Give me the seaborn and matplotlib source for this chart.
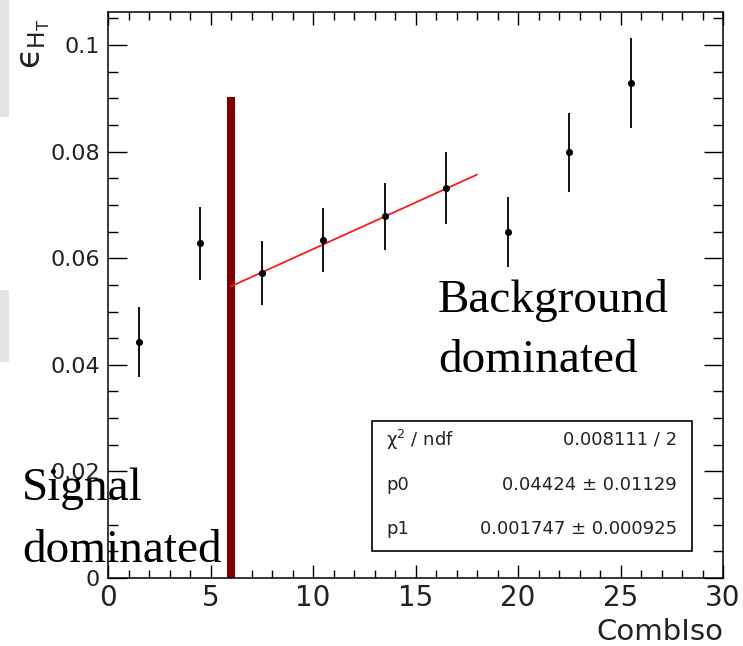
import numpy as np
import pandas as pd
import matplotlib
matplotlib.use("Agg")
import matplotlib.pyplot as plt
from matplotlib.patches import Rectangle, Polygon
import seaborn as sns

# ---- data ----
comb_iso = [1.5, 4.5, 7.5, 10.5, 13.5, 16.5, 19.5, 22.5, 25.5]
eff_ht = [0.0443, 0.0628, 0.0572, 0.0634, 0.0679, 0.0732, 0.0649, 0.0799, 0.0929]
eff_err = [0.0065, 0.0069, 0.0060, 0.0060, 0.0063, 0.0068, 0.0065, 0.0074, 0.0084]

fit_p0 = 0.04424
fit_p1 = 0.001747
fit_range = [6.0, 18.0]
cut_x = 6.0
cut_top = 0.0902

xticks = [0, 5, 10, 15, 20, 25, 30]
yticks = [0, 0.02, 0.04, 0.06, 0.08, 0.1]
yticklabels = ["0", "0.02", "0.04", "0.06", "0.08", "0.1"]

stats_rows = [(r"$\chi^{2}$ / ndf", "0.008111 / 2"),
              ("p0", "0.04424 \u00b1 0.01129"),
              ("p1", "0.001747 \u00b1 0.000925")]

df = pd.DataFrame({"CombIso": comb_iso, "eff": eff_ht, "err": eff_err})
fit_df = pd.DataFrame({"x": fit_range,
                       "y": [fit_p0 + fit_p1 * v for v in fit_range]})

sns.set_style("white")
plt.rcParams["font.family"] = ["DejaVu Sans"]
plt.rcParams["mathtext.fontset"] = "dejavusans"
plt.rcParams["mathtext.default"] = "regular"

W, H = 743, 646
fig = plt.figure(figsize=(W / 100, H / 100), dpi=100)
fig.patch.set_facecolor("white")

def fx(px):
    return px / W

def fy(py):
    return 1 - py / H

# faint slide watermark at the left edge
for pts in ([(0, 0), (9, 0), (9, 117), (0, 117)],
            [(0, 290), (9, 290), (9, 362), (0, 362)]):
    fig.patches.append(Polygon([(fx(a), fy(b)) for a, b in pts], closed=True,
                               transform=fig.transFigure, facecolor="#e4e4e4",
                               edgecolor="none", zorder=0))

ax = fig.add_axes([fx(108), fy(578), fx(723) - fx(108), fy(12) - fy(578)])
ax.set_facecolor("none")

ax.set_xlim(0, 30)
ax.set_ylim(0, 0.1062)

# cut line
ax.vlines(cut_x, 0, cut_top, color="#800000", lw=5.8, zorder=2)

# fit line
sns.lineplot(data=fit_df, x="x", y="y", ax=ax, color="#ff1a1a", lw=1.3,
             zorder=3, legend=False)

# error bars and points
ax.errorbar(df["CombIso"], df["eff"], yerr=df["err"], fmt="none",
            ecolor="black", elinewidth=1.3, capsize=0, zorder=4)
sns.scatterplot(data=df, x="CombIso", y="eff", ax=ax, color="black", s=26,
                edgecolor="black", linewidth=0, zorder=5, legend=False)

ax.set_xlabel("")
ax.set_ylabel("")

# ticks ROOT style
ax.set_xticks(xticks)
ax.set_xticklabels([str(t) for t in xticks])
ax.set_yticks(yticks)
ax.set_yticklabels(yticklabels)
ax.set_xticks(np.arange(0, 31, 1), minor=True)
ax.set_yticks(np.arange(0, 0.1061, 0.005), minor=True)
ax.tick_params(axis="x", which="major", direction="in", top=True, bottom=True,
               length=9.5, width=1.0, labelsize=20, pad=4, color="black",
               labelcolor="#222222")
ax.tick_params(axis="x", which="minor", direction="in", top=True, bottom=True,
               length=5.5, width=1.0, color="black")
ax.tick_params(axis="y", which="major", direction="in", left=True, right=True,
               length=14, width=1.0, labelsize=16, pad=6, color="black",
               labelcolor="#222222")
ax.tick_params(axis="y", which="minor", direction="in", left=True, right=True,
               length=7.5, width=1.0, color="black")
for s in ax.spines.values():
    s.set_visible(True)
    s.set_color("black")
    s.set_linewidth(1.1)

# axis titles
fig.text(fx(723), fy(640), "CombIso", ha="right", va="baseline",
         fontsize=21, color="#222222")
fig.text(fx(35), fy(44), "\u03f5$_{H_{T}}$", rotation=90, ha="center",
         va="center", fontsize=24, color="#222222")

# stats box
fig.patches.append(Rectangle((fx(372), fy(551)), fx(692) - fx(372),
                             fy(421) - fy(551), transform=fig.transFigure,
                             facecolor="white", edgecolor="black", lw=1.2,
                             zorder=6))
row_y = [440, 485, 529]
for (lab, val), yy in zip(stats_rows, row_y):
    fig.text(fx(386), fy(yy), lab, ha="left", va="center", fontsize=13,
             color="#222222", zorder=7)
    fig.text(fx(677), fy(yy), val, ha="right", va="center", fontsize=13,
             color="#222222", zorder=7)

# annotations
serif = ["Liberation Serif", "DejaVu Serif"]
fig.text(fx(438), fy(312), "Background", ha="left", va="baseline",
         fontsize=34, family=serif, color="black", zorder=8)
fig.text(fx(438), fy(372), "dominated", ha="left", va="baseline",
         fontsize=34, family=serif, color="black", zorder=8)
fig.text(fx(22), fy(500), "Signal", ha="left", va="baseline",
         fontsize=34, family=serif, color="black", zorder=8)
fig.text(fx(22), fy(562), "dominated", ha="left", va="baseline",
         fontsize=34, family=serif, color="black", zorder=8)

fig.savefig("out.png", dpi=100)
